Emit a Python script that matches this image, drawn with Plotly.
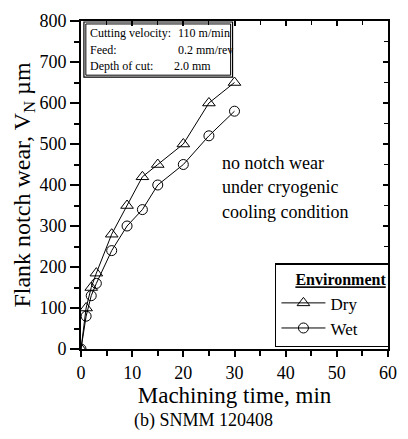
import plotly.graph_objects as go

time_min = [0, 1, 2, 3, 6, 9, 12, 15, 20, 25, 30]
dry_wear = [0, 100, 150, 185, 280, 350, 420, 450, 500, 600, 650]
wet_wear = [0, 80, 130, 160, 240, 300, 340, 400, 450, 520, 580]

info_labels = ["Cutting velocity:", "Feed:", "Depth of cut:"]
info_values = ["110 m/min", "0.2 mm/rev", "2.0 mm"]
note_lines = ["no notch wear", "under cryogenic", "cooling condition"]

FONT = "Liberation Serif"
W, H = 408, 439
L, R, T, B = 81, 11, 16, 90
pw, ph = W - L - R, H - T - B

def px(x):
    return (x - L) / pw

def py(y):
    return (H - B - y) / ph

PAD = "\u00a0" * 6

fig = go.Figure()
fig.add_trace(go.Scatter(x=time_min, y=dry_wear, name="Dry" + PAD, mode="lines+markers",
                         line=dict(color="black", width=1),
                         marker=dict(symbol="triangle-up-open", size=11, color="black",
                                     line=dict(width=1))))
fig.add_trace(go.Scatter(x=time_min, y=wet_wear, name="Wet" + PAD, mode="lines+markers",
                         line=dict(color="black", width=1),
                         marker=dict(symbol="circle-open", size=10, color="black",
                                     line=dict(width=1))))
fig.add_trace(go.Scatter(x=[0], y=[0], xaxis="x2", yaxis="y2", mode="markers",
                         marker=dict(opacity=0), showlegend=False, hoverinfo="skip"))

axis_common = dict(showgrid=False, zeroline=False, showline=True, linecolor="black",
                   linewidth=2, tickcolor="black", tickwidth=1.5)

fig.update_layout(
    width=W, height=H,
    margin=dict(l=L, r=R, t=T, b=B),
    paper_bgcolor="white", plot_bgcolor="white",
    font=dict(family=FONT, color="black", size=16),
    xaxis=dict(range=[0, 60], dtick=10, ticks="outside", ticklen=6,
               minor=dict(dtick=5, ticks="outside", ticklen=5, tickcolor="black", tickwidth=1.5),
               title=dict(text="Machining time, min", font=dict(size=23, family=FONT), standoff=0),
               tickfont=dict(size=18, family=FONT), **axis_common),
    yaxis=dict(range=[0, 800], dtick=100, ticks="outside", ticklen=9,
               minor=dict(dtick=50, ticks="outside", ticklen=5, tickcolor="black", tickwidth=1.5),
               title=dict(text="Flank notch wear, V<sub>N</sub> \u00b5m", font=dict(size=24, family=FONT), standoff=2),
               tickfont=dict(size=18, family=FONT), **axis_common),
    xaxis2=dict(range=[0, 60], overlaying="x", side="top", anchor="y2", dtick=10,
                ticks="inside", ticklen=5, showticklabels=False,
                minor=dict(dtick=5, ticks="inside", ticklen=4, tickcolor="black", tickwidth=1),
                **axis_common),
    yaxis2=dict(range=[0, 800], overlaying="y", side="right", anchor="x2", dtick=100,
                ticks="inside", ticklen=5, showticklabels=False,
                minor=dict(dtick=50, ticks="inside", ticklen=4, tickcolor="black", tickwidth=1),
                **axis_common),
    legend=dict(x=px(399), y=py(347), xanchor="right", yanchor="bottom",
                bordercolor="black", borderwidth=1.5, bgcolor="white",
                font=dict(size=17, family=FONT),
                title=dict(text="<b><u>Environment</u></b>", side="top right",
                           font=dict(size=16, family=FONT)),
                tracegroupgap=0, itemwidth=44),
    showlegend=True,
)

anns = []
rows_y = [28, 45, 62]
val_x = [179, 179, 175]
for lab, val, yy, vx in zip(info_labels, info_values, rows_y, val_x):
    anns.append(dict(xref="paper", yref="paper", x=px(88), y=py(yy), xanchor="left",
                     yanchor="middle", text=lab, showarrow=False,
                     font=dict(size=12, family=FONT)))
    anns.append(dict(xref="paper", yref="paper", x=px(vx), y=py(yy), xanchor="left",
                     yanchor="middle", text=val, showarrow=False,
                     font=dict(size=12, family=FONT)))
for txt, yy in zip(note_lines, [160, 185, 210]):
    anns.append(dict(xref="paper", yref="paper", x=px(224), y=py(yy), xanchor="left",
                     yanchor="middle", text=txt, showarrow=False,
                     font=dict(size=18, family=FONT)))
anns.append(dict(xref="paper", yref="paper", x=px(207), y=py(422), xanchor="center",
                 yanchor="middle", text="(b) SNMM 120408", showarrow=False,
                 font=dict(size=18, family=FONT)))
fig.update_layout(annotations=anns)

shapes = [
    dict(type="rect", xref="paper", yref="paper", x0=px(84), x1=px(237), y0=py(17), y1=py(73),
         line=dict(color="black", width=1.2), fillcolor="rgba(0,0,0,0)"),
    dict(type="rect", xref="paper", yref="paper", x0=px(86), x1=px(235), y0=py(19), y1=py(71),
         line=dict(color="black", width=1), fillcolor="rgba(0,0,0,0)"),
]
fig.update_layout(shapes=shapes)

fig.write_html("out.html")
